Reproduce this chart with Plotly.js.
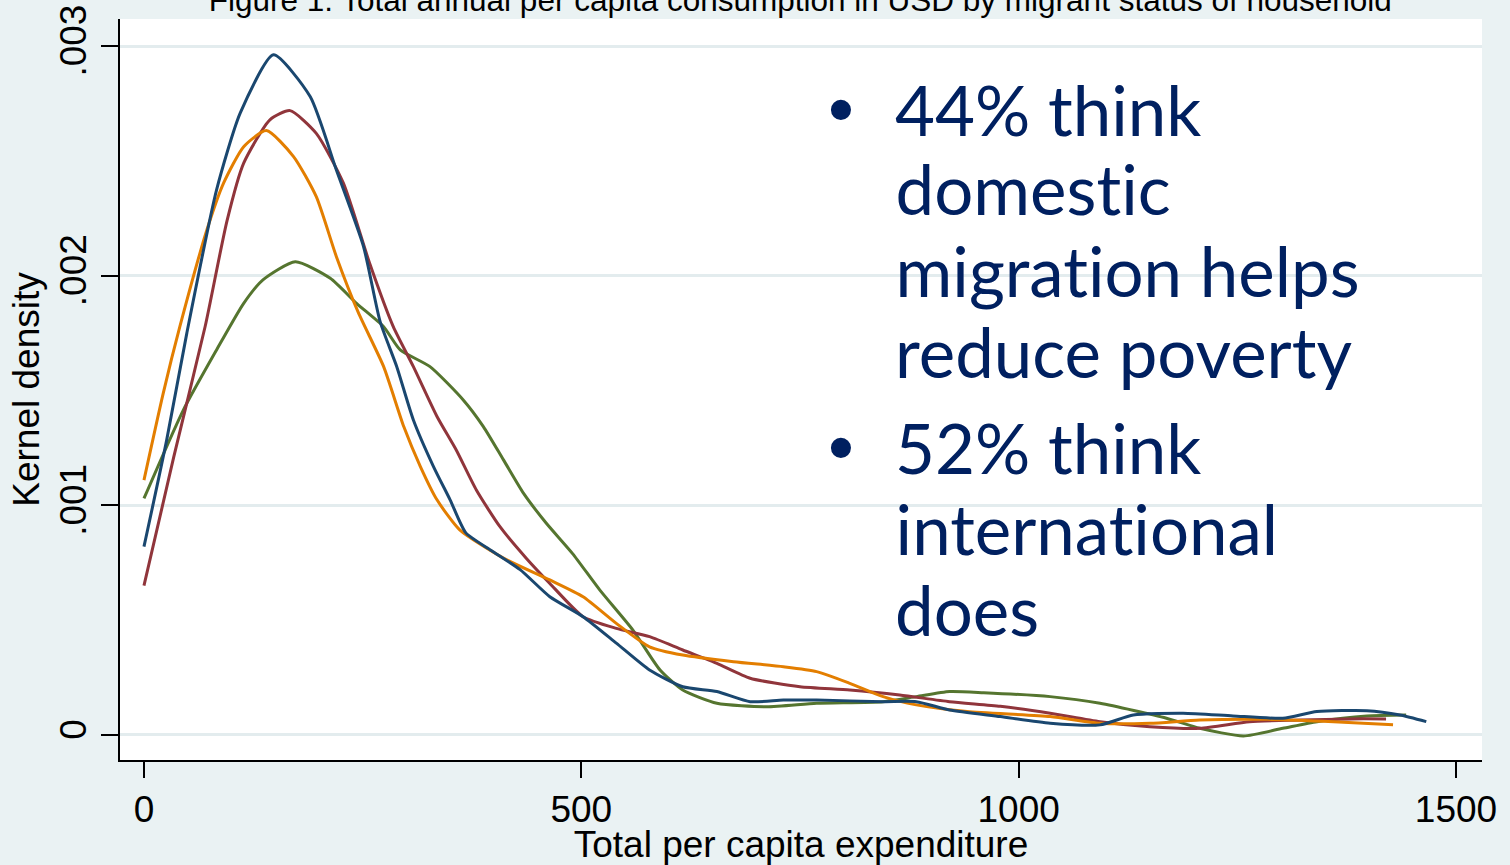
<!DOCTYPE html>
<html>
<head>
<meta charset="utf-8">
<script src="https://cdn.plot.ly/plotly-3.0.1.min.js"></script>
<style>
  html, body { margin: 0; padding: 0; background: #EAF2F3; }
  #chart { width: 1510px; height: 865px; }
  #chart text { font-variant-ligatures: none; font-feature-settings: "liga" 0, "clig" 0; }
</style>
</head>
<body>
<div id="chart"></div>
<script>
// ---- data ----
const chartTitle = "Figure 1: Total annual per capita consumption in USD by migrant status of household";
const xTitle = "Total per capita expenditure";
const yTitle = "Kernel density";

const xTickVals = [0, 500, 1000, 1500];
const xTickText = ["0", "500", "1000", "1500"];
const yTickVals = [0, 0.001, 0.002, 0.003];
const yTickText = ["0", ".001", ".002", ".003"];

const navyX = [0, 26, 49, 83, 110, 148, 190, 220, 251, 270, 289, 308, 331, 350, 368, 396, 430, 464, 502, 540, 578, 616, 655, 693, 731, 769, 845, 883, 921, 979, 1036, 1093, 1131, 1188, 1245, 1302, 1341, 1398, 1436, 1466];
const navyY = [0.00082, 0.001285, 0.00175, 0.002374, 0.002708, 0.002962, 0.00278, 0.00246, 0.002127, 0.0018, 0.001604, 0.001372, 0.001169, 0.001024, 0.00088, 0.000806, 0.00072, 0.000602, 0.000515, 0.0004, 0.000283, 0.00021, 0.000189, 0.000145, 0.000152, 0.000152, 0.000145, 0.000145, 0.000109, 0.00008, 0.000051, 0.000044, 0.000087, 0.000095, 0.000083, 0.000073, 0.000102, 0.000106, 0.000087, 0.000058];

const maroonX = [0, 34, 70, 95, 114, 144, 167, 197, 228, 258, 285, 308, 335, 357, 380, 407, 437, 464, 502, 540, 578, 616, 655, 693, 750, 807, 864, 921, 979, 1036, 1093, 1150, 1207, 1264, 1322, 1380, 1420];
const maroonY = [0.00065, 0.00121, 0.00178, 0.00224, 0.00249, 0.002679, 0.002719, 0.00262, 0.002403, 0.002054, 0.001778, 0.001604, 0.001387, 0.001241, 0.001067, 0.000907, 0.00077, 0.00066, 0.000515, 0.000464, 0.000428, 0.00037, 0.000312, 0.000247, 0.00021, 0.000196, 0.000174, 0.000145, 0.000125, 0.000095, 0.000058, 0.000036, 0.000029, 0.000058, 0.000065, 0.00007, 0.00007];

const greenX = [0, 45, 83, 114, 136, 173, 213, 243, 274, 293, 327, 365, 388, 411, 434, 460, 490, 521, 559, 590, 616, 655, 712, 769, 845, 883, 921, 960, 1036, 1093, 1169, 1207, 1257, 1302, 1341, 1398, 1443];
const greenY = [0.00103, 0.001415, 0.001677, 0.00188, 0.001982, 0.002061, 0.001989, 0.00188, 0.001778, 0.001677, 0.001604, 0.001459, 0.001343, 0.001198, 0.001052, 0.000922, 0.00079, 0.000632, 0.000457, 0.000283, 0.000196, 0.000138, 0.000123, 0.000138, 0.000145, 0.000167, 0.000189, 0.000184, 0.000167, 0.000138, 0.000073, 0.000029, -0.000004, 0.000029, 0.000058, 0.000083, 0.000087];

const orangeX = [0, 22, 41, 72, 91, 114, 140, 171, 197, 220, 245, 274, 297, 316, 335, 361, 411, 464, 502, 540, 578, 616, 674, 731, 769, 807, 845, 883, 941, 1036, 1093, 1150, 1207, 1284, 1360, 1428];
const orangeY = [0.00111, 0.001488, 0.001778, 0.0022, 0.002403, 0.002562, 0.002632, 0.002519, 0.002344, 0.002083, 0.00184, 0.001604, 0.001343, 0.001169, 0.001024, 0.000893, 0.00077, 0.000675, 0.000602, 0.000486, 0.000384, 0.000348, 0.000319, 0.000297, 0.000276, 0.000225, 0.000167, 0.000131, 0.000102, 0.00008, 0.000051, 0.000051, 0.000065, 0.000068, 0.000058, 0.000044];

const bulletGroup1 = ["44% think", "domestic", "migration helps", "reduce poverty"];
const bulletGroup2 = ["52% think", "international", "does"];

// ---- layout constants (pixels) ----
const W = 1510, H = 865;
const M = { l: 120, r: 28, t: 19, b: 105 };
const pw = W - M.l - M.r, ph = H - M.t - M.b;
const px2x = p => (p - M.l) / pw;
const py2y = p => (H - M.b - p) / ph;

function series(x, y, color) {
  return {
    type: "scatter", mode: "lines", x: x, y: y,
    line: { color: color, width: 3, shape: "spline", smoothing: 0.6 },
    hoverinfo: "skip", showlegend: false
  };
}

const traces = [
  series(greenX, greenY, "#55752f"),
  series(maroonX, maroonY, "#90353b"),
  series(orangeX, orangeY, "#e37e00"),
  series(navyX, navyY, "#1a476f")
];

const textFont = { family: "Lato, 'Open Sans', sans-serif", size: 69, color: "#002060" };
const annotations = [];
const line1Y = [109, 189, 270, 351];
const line2Y = [447, 528, 609];
bulletGroup1.forEach((t, i) => annotations.push({
  xref: "paper", yref: "paper", x: px2x(893), y: py2y(line1Y[i]),
  xanchor: "left", yanchor: "middle", text: t, showarrow: false, font: textFont
}));
bulletGroup2.forEach((t, i) => annotations.push({
  xref: "paper", yref: "paper", x: px2x(893), y: py2y(line2Y[i]),
  xanchor: "left", yanchor: "middle", text: t, showarrow: false, font: textFont
}));
[line1Y[0], line2Y[0]].forEach(py => annotations.push({
  xref: "paper", yref: "paper", x: px2x(841), y: py2y(py),
  xanchor: "center", yanchor: "middle", text: "•", showarrow: false,
  font: { family: "'Liberation Sans', Arial, sans-serif", size: 74, color: "#002060" }
}));

const axisFont = { family: "'Liberation Sans', Arial, sans-serif", color: "#000000" };

const layout = {
  width: W, height: H,
  margin: M,
  paper_bgcolor: "#EAF2F3",
  plot_bgcolor: "#FFFFFF",
  title: {
    text: chartTitle,
    x: 0.53, xanchor: "center",
    y: 1, yref: "container", yanchor: "middle",
    font: Object.assign({ size: 31.5 }, axisFont)
  },
  xaxis: {
    range: [-27.4, 1529.7],
    tickmode: "array", tickvals: xTickVals, ticktext: xTickText,
    ticks: "outside", ticklen: 16, tickwidth: 2, tickcolor: "#000",
    showline: true, linecolor: "#000", linewidth: 2,
    showgrid: false, zeroline: false,
    tickfont: Object.assign({ size: 37 }, axisFont),
    ticklabelstandoff: 0,
    title: { text: xTitle, font: Object.assign({ size: 37 }, axisFont), standoff: 6 },
    automargin: false, fixedrange: true
  },
  yaxis: {
    range: [-0.000109, 0.003118],
    tickmode: "array", tickvals: yTickVals, ticktext: yTickText,
    tickangle: -90,
    ticks: "outside", ticklen: 17, tickwidth: 2, tickcolor: "#000",
    showline: true, linecolor: "#000", linewidth: 2,
    showgrid: true, gridcolor: "#E3ECEE", gridwidth: 3,
    zeroline: false,
    tickfont: Object.assign({ size: 37 }, axisFont),
    title: { text: yTitle, font: Object.assign({ size: 37 }, axisFont), standoff: 2 },
    automargin: false, fixedrange: true
  },
  annotations: annotations,
  showlegend: false
};

Plotly.newPlot("chart", traces, layout, { displayModeBar: false, staticPlot: true });
</script>
</body>
</html>
